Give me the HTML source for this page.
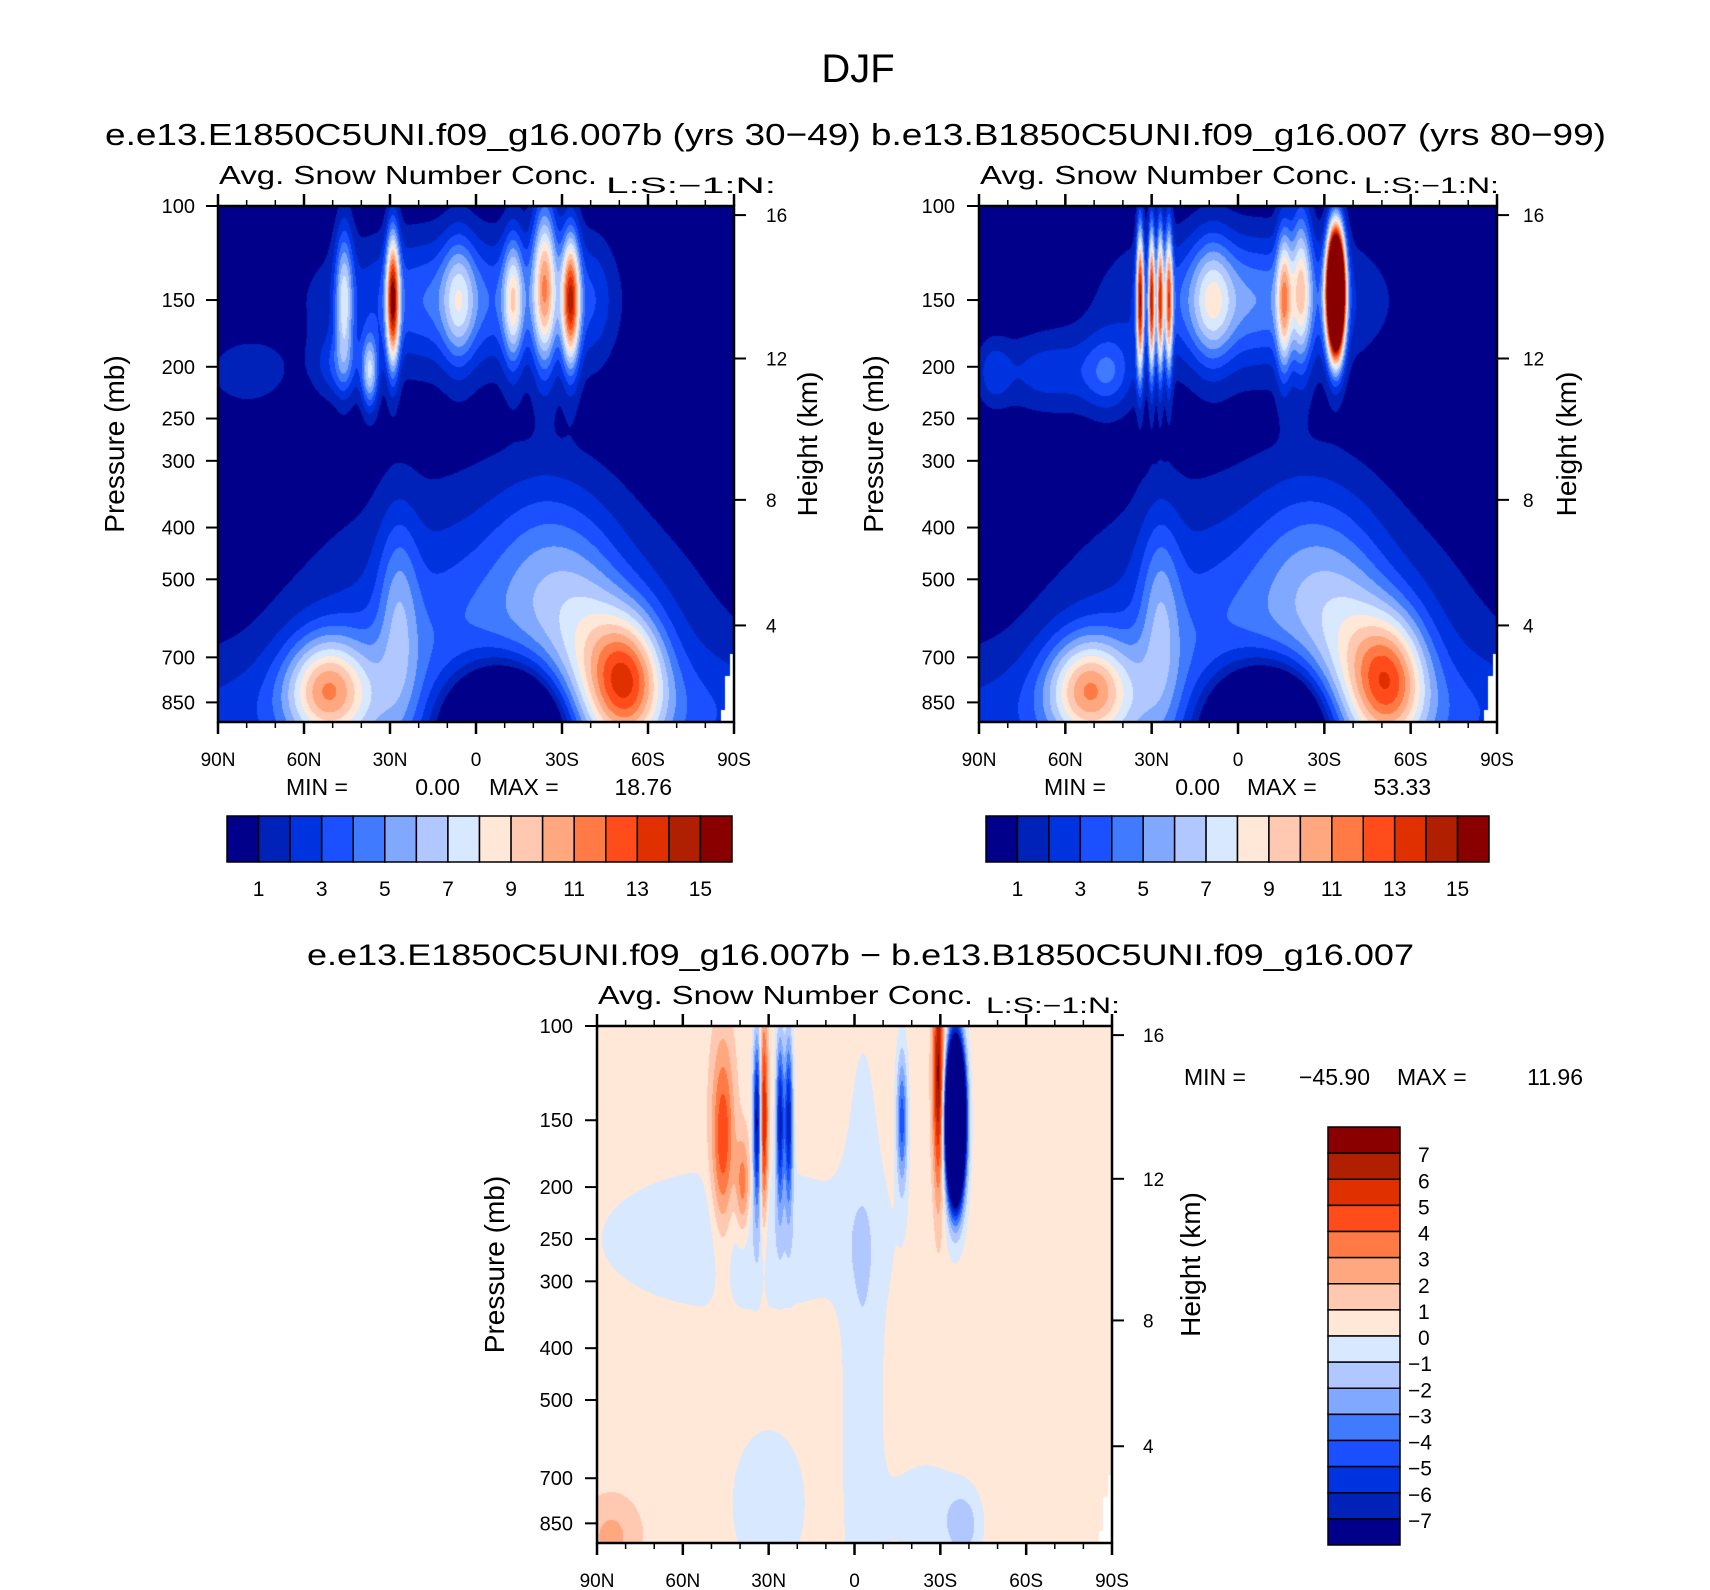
<!DOCTYPE html>
<html><head><meta charset="utf-8">
<style>
html,body{margin:0;padding:0;background:#fff;}
#wrap{position:relative;width:1710px;height:1590px;overflow:hidden;font-family:"Liberation Sans",sans-serif;}
canvas{position:absolute;}
svg{position:absolute;left:0;top:0;}
</style></head>
<body>
<div id="wrap">
<canvas id="c1" width="516" height="516" style="left:218px;top:206px"></canvas>
<canvas id="c2" width="518" height="516" style="left:979px;top:206px"></canvas>
<canvas id="c3" width="515" height="517" style="left:597px;top:1026px"></canvas>
<svg id="s" width="1710" height="1590"></svg>
</div>
<script>
// ---------- data ----------
const colors = ["#00008a","#0022b8","#0033e0","#1a50ff","#3f7aff","#80a8ff","#b0c8ff","#d8e8ff","#ffe8d8","#ffc8b0","#ffa880","#ff7a45","#ff4c1a","#e03000","#b02000","#8a0000"];
const latTicks = [90,60,30,0,-30,-60,-90];
const latTickLabels = ["90N","60N","30N","0","30S","60S","90S"];
const presTicks = [100,150,200,250,300,400,500,700,850];
const heightTicks = [4,8,12,16];
const heightPres = [610,355,193,104];
const topBarLabels = [1,3,5,7,9,11,13,15];
const diffBarLabels = [7,6,5,4,3,2,1,0,-1,-2,-3,-4,-5,-6,-7];

// panel 1 blobs (lat, pressure, amplitude, lat-width, logp-width)
const p1Lat  = [8, 29, 46, 37, 6, -13, -24, -33, 80, -40, 48, -8, -10, 52, -53, 27, -25, -40, 0];
const p1Pres = [150,150,150,205,150, 150, 140, 150,205, 150, 200, 780, 950, 800, 770, 560, 480, 700, 900];
const p1Amp  = [4.2, 13, 6, 6, 4, 6, 9, 12, 1.8, 2, 2.5, 5, -14, 7.5, 8, 3, 2.5, 3, 2];
const p1SLat = [30, 1.6, 2.2, 2, 4, 2.5, 3, 2.2, 10, 6, 6, 45, 17, 10, 9, 5, 14, 10, 200];
const p1SP   = [0.2,0.2,0.22,0.11,0.2,0.2,0.25,0.2,0.1,0.2,0.1,0.5,0.2,0.16,0.2,0.3,0.3,0.3,0.2];

// panel 2 blobs
const p2Lat  = [-2, 34, 30, 27, 24, 9, -16, -22, -34, 65, 45, -8, -10, 52, -53, 27, -25, -40, 85, 0];
const p2Pres = [150,150,150,150,150,150,150,140,145,205,205,780,950,800,770,560,480,700,205,900];
const p2Amp  = [5, 13, 12, 11, 10, 4, 7, 6, 42, 2.5, 3, 5, -14, 7.5, 7.5, 3, 2.5, 3, 2, 2];
const p2SLat = [28, 0.9, 0.8, 0.8, 0.9, 5, 1.8, 2.5, 2, 14, 6, 45, 17, 10, 9, 5, 14, 10, 4, 200];
const p2SP   = [0.2,0.22,0.22,0.22,0.22,0.2,0.22,0.25,0.17,0.12,0.12,0.5,0.2,0.16,0.2,0.3,0.3,0.3,0.1,0.2];

// difference panel blobs
const p3Lat  = [40, -3, 30, 85, 46, 39, 34, 31.7, 26, 23, -16.6, -29.4, -35.3, -25, -38];
const p3Pres = [250,450,780,900,165,200,150,150,150,150,150,125,150,800,860];
const p3Amp  = [-1.3,-1.3,-1.1,1.8,4.5,3.5,-8,6,-7,-7,-5,7,-45,-1.1,-2];
const p3SLat = [35, 5, 10, 7, 2.8, 1.8, 1, 1, 1, 1, 1.3, 1.4, 2, 10, 4];
const p3SP   = [0.22,1.0,0.25,0.12,0.3,0.15,0.25,0.3,0.25,0.25,0.2,0.35,0.2,0.15,0.1];

// ---------- scales ----------
const LNRANGE = Math.log(9.25);
function yOfP(p, top, h){ return top + h*Math.log(p/100)/LNRANGE; }
function xOfLat(lat, left, w){ return left + (90-lat)/180*w; }

function hexRGB(h){return [parseInt(h.substr(1,2),16),parseInt(h.substr(3,2),16),parseInt(h.substr(5,2),16)];}
const rgb = colors.map(hexRGB);

function renderField(id, lats, pres, amps, sl, sp, base, offset, maskFn){
  const cv=document.getElementById(id), ctx=cv.getContext('2d');
  const W=cv.width,H=cv.height, img=ctx.createImageData(W,H);
  const lp = pres.map(p=>Math.log(p));
  for(let y=0;y<H;y++){
    const p = 100*Math.exp((y+0.5)/H*LNRANGE), lnp=Math.log(p);
    for(let x=0;x<W;x++){
      const lat = 90-(x+0.5)/W*180;
      let v=base;
      for(let i=0;i<lats.length;i++){
        const dl=(lat-lats[i])/sl[i], dp=(lnp-lp[i])/sp[i];
        v+=amps[i]*Math.exp(-0.5*(dl*dl+dp*dp));
      }
      let k=Math.floor(v)+offset; if(k<0)k=0; if(k>15)k=15;
      let c=rgb[k];
      if(maskFn(lat,p)) c=[255,255,255];
      const o=(y*W+x)*4; img.data[o]=c[0];img.data[o+1]=c[1];img.data[o+2]=c[2];img.data[o+3]=255;
    }
  }
  ctx.putImageData(img,0,0);
}
const maskTop=(lat,p)=> (lat<-88.5 && p>690) || (lat<-87 && p>760) || (lat<-85.5 && p>880);
const maskBot=(lat,p)=> (lat<-88.5 && p>690) || (lat<-87 && p>760) || (lat<-85.5 && p>880);
renderField('c1',p1Lat,p1Pres,p1Amp,p1SLat,p1SP,0,0,maskTop);
renderField('c2',p2Lat,p2Pres,p2Amp,p2SLat,p2SP,0,0,maskTop);
renderField('c3',p3Lat,p3Pres,p3Amp,p3SLat,p3SP,0.5,8,maskBot);

// ---------- svg ----------
const S=document.getElementById('s'), NS="http://www.w3.org/2000/svg";
function el(tag,attrs,parent){const e=document.createElementNS(NS,tag);for(const k in attrs)e.setAttribute(k,attrs[k]);(parent||S).appendChild(e);return e;}
function txt(x,y,s,size,anchor,extra){const t=el('text',Object.assign({x:x,y:y,'font-size':size,'text-anchor':anchor||'start','font-family':'Liberation Sans, sans-serif',fill:'#000'},extra||{}));t.textContent=s;return t;}

let t;
t=txt(858,82,"DJF",40,'middle');


t=txt(105,145,"e.e13.E1850C5UNI.f09_g16.007b (yrs 30−49) b.e13.B1850C5UNI.f09_g16.007 (yrs 80−99)",31,'start',{textLength:1501,lengthAdjust:'spacingAndGlyphs'});


t=txt(307,965,"e.e13.E1850C5UNI.f09_g16.007b − b.e13.B1850C5UNI.f09_g16.007",30,'start',{textLength:1107,lengthAdjust:'spacingAndGlyphs'});



function panel(name,L,T,W,H,presX,heightX,prsTitleX,hgtTitleX,titleY,avgLen,lsX,lsLen){
  const g=el('g',{});
  
  
  el('rect',{x:L,y:T,width:W,height:H,fill:'none',stroke:'#000','stroke-width':2.5},g);
  for(let lat=90;lat>=-90;lat-=10){
    const x=xOfLat(lat,L,W), major=(lat%30===0);
    const len=major?12:6;
    el('line',{x1:x,y1:T,x2:x,y2:T-len,stroke:'#000','stroke-width':major?2.5:1.5},g);
    el('line',{x1:x,y1:T+H,x2:x,y2:T+H+len,stroke:'#000','stroke-width':major?2.5:1.5},g);
  }
  latTicks.forEach((lat,i)=>{
    const lb=txt(xOfLat(lat,L,W),T+H+44,latTickLabels[i],19,'middle',{},g);
    g.appendChild(lb);
    
    
  });
  presTicks.forEach(p=>{
    const y=yOfP(p,T,H);
    el('line',{x1:L,y1:y,x2:L-12,y2:y,stroke:'#000','stroke-width':2},g);
    const lb=txt(presX,y+7,String(p),20,'end',{},g); g.appendChild(lb);
    
    
  });
  heightTicks.forEach((h,i)=>{
    const y=yOfP(heightPres[i],T,H);
    el('line',{x1:L+W,y1:y,x2:L+W+12,y2:y,stroke:'#000','stroke-width':2},g);
    const lb=txt(heightX,y+7,String(h),19,'start',{},g); g.appendChild(lb);
    
    
  });
  const cy=T+H/2-20;
  let a=txt(0,0,"Pressure (mb)",28,'middle',{transform:`translate(${prsTitleX},${cy}) rotate(-90)`}); g.appendChild(a);
  
  
  a=txt(0,0,"Height (km)",28,'middle',{transform:`translate(${hgtTitleX},${cy}) rotate(-90)`}); g.appendChild(a);
  
  
  a=txt(L+1,titleY,"Avg. Snow Number Conc.",26,'start',{textLength:avgLen,lengthAdjust:'spacingAndGlyphs'}); g.appendChild(a);
  
  
  a=txt(lsX,titleY+9,"L:S:−1:N:",22,'start',{textLength:lsLen,lengthAdjust:'spacingAndGlyphs'}); g.appendChild(a);
  
  
}
panel('control-panel',218,206,516,516,195,766,124,817,184,378,606,170);
panel('base-panel',979,206,518,516,955,1523,883,1576,184,378,1364,135);
panel('difference-panel',597,1026,515,517,573,1143,504,1200,1004,375,986,134);

function minmax(name,y,items){
  items.forEach(it=>{
    const tt=txt(it[0],y,it[1],23,it[2]);
    
    
  });
}
minmax('control-min-max',795,[[286,"MIN =",'start'],[460,"0.00",'end'],[489,"MAX =",'start'],[672,"18.76",'end']]);
minmax('base-min-max',795,[[1044,"MIN =",'start'],[1220,"0.00",'end'],[1247,"MAX =",'start'],[1431,"53.33",'end']]);
minmax('difference-min-max',1085,[[1184,"MIN =",'start'],[1370,"−45.90",'end'],[1397,"MAX =",'start'],[1583,"11.96",'end']]);

function hbar(name,L,T,W,H){
  const g=el('g',{});
  
  
  const bw=W/colors.length;
  colors.forEach((c,i)=>{
    const r=el('rect',{x:L+i*bw,y:T,width:bw,height:H,fill:c,stroke:'#000','stroke-width':1.5},g);
    
    
  });
  topBarLabels.forEach(v=>{
    const lb=txt(L+v*bw,T+H+34,String(v),21,'middle'); g.appendChild(lb);
    
    
  });
}
hbar('control-colorbar',227,816,505,46);
hbar('base-colorbar',986,816,503,46);

(function(){
  const g=el('g',{});
  
  
  const L=1328,T=1127,W=72,H=418, bh=H/16;
  for(let i=0;i<16;i++){
    const r=el('rect',{x:L,y:T+i*bh,width:W,height:bh,fill:colors[15-i],stroke:'#000','stroke-width':1.5},g);
    
    
  }
  diffBarLabels.forEach((v,i)=>{
    const s=v<0?"−"+(-v):String(v);
    const lb=txt(v<0?1408:1418,T+(i+1)*bh+9,s,21,'start'); g.appendChild(lb);
    
    
  });
})();
</script>
</body></html>
